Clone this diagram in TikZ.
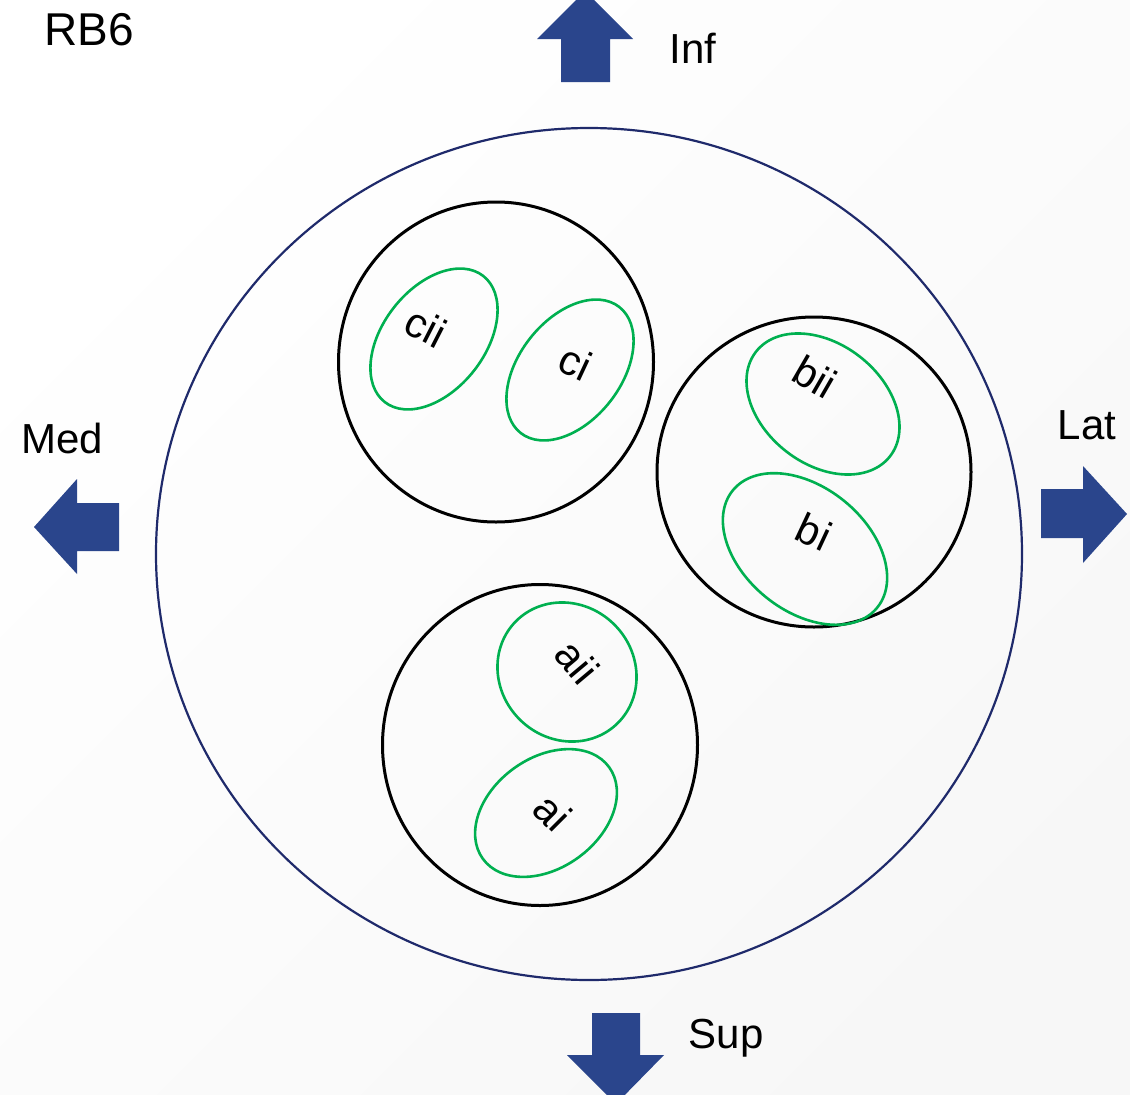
\documentclass[tikz,border=0pt]{standalone}
\usepackage{fontspec}
\setmainfont{Liberation Sans}
\usetikzlibrary{shapes.geometric}
\definecolor{navy}{RGB}{31,42,107}
\definecolor{arrowblue}{RGB}{42,69,140}
\definecolor{lobegreen}{RGB}{0,176,80}
\begin{document}
\begin{tikzpicture}[x=1pt,y=-1pt,
  outer/.style={draw=navy,line width=2.2pt,ellipse,inner sep=0pt},
  ring/.style={draw=black,line width=3pt,ellipse,inner sep=0pt},
  lobe/.style={draw=lobegreen,line width=2.6pt,ellipse,inner sep=0pt},
  tag/.style={font=\fontsize{42}{50}\selectfont,inner sep=0pt},
  blockarrow/.style={fill=arrowblue,draw=none}]

% canvas with a faint diagonal tint
\useasboundingbox (0,0) rectangle (1130,1095);
\shade[top color=white,bottom color=black!3,shading angle=45] (0,0) rectangle (1130,1095);

% title
\node[font=\fontsize{46}{54}\selectfont,inner sep=0pt] (title) at (89,30) {RB6};

% outer boundary
\node[outer,minimum width=866,minimum height=852] (body) at (589,554) {};

% three groups
\node[ring,minimum width=315,minimum height=320] (ringC) at (496,362) {};
\node[ring,minimum width=314,minimum height=310] (ringB) at (814,472) {};
\node[ring,minimum width=315,minimum height=321] (ringA) at (540,745) {};

% sub-regions
\node[lobe,rotate=52,minimum width=160,minimum height=102] (lobeCii) at (434,339) {};
\node[lobe,rotate=52,minimum width=160,minimum height=102] (lobeCi) at (570,370) {};
\node[lobe,rotate=-38,minimum width=170,minimum height=120] (lobeBii) at (823,404) {};
\node[lobe,rotate=-39,minimum width=186,minimum height=124] (lobeBi) at (805,549) {};
\node[lobe,rotate=-45,minimum width=144,minimum height=134] (lobeAii) at (567,672) {};
\node[lobe,rotate=36,minimum width=156,minimum height=110] (lobeAi) at (546,813) {};

% sub-region labels
\node[tag,rotate=-27] (cii) at (426,327) {cii};
\node[tag,rotate=-25] (ci) at (576,362) {ci};
\node[tag,rotate=-30] (bii) at (815,377) {bii};
\node[tag,rotate=-25] (bi) at (814,532) {bi};
\node[tag,rotate=-50] (aii) at (577,662) {aii};
\node[tag,rotate=-45] (ai) at (553,812) {ai};

% direction arrows
\fill[blockarrow] (561,82) -- (561,39) -- (537,39) -- (585,-9) -- (633,39) -- (610,39) -- (610,82) -- cycle;
\fill[blockarrow] (592,1013) -- (592,1055) -- (567,1055) -- (616,1104) -- (664,1055) -- (640,1055) -- (640,1013) -- cycle;
\fill[blockarrow] (119,503) -- (77,503) -- (77,479) -- (34,527) -- (77,574) -- (77,551) -- (119,551) -- cycle;
\fill[blockarrow] (1041,489) -- (1083,489) -- (1083,466) -- (1127,514) -- (1083,563) -- (1083,538) -- (1041,538) -- cycle;

% direction labels
\node[tag] (inf) at (693,48) {Inf};
\node[tag] (med) at (62,438) {Med};
\node[tag] (lat) at (1087,425) {Lat};
\node[tag] (sup) at (726,1038) {Sup};
\end{tikzpicture}
\end{document}
